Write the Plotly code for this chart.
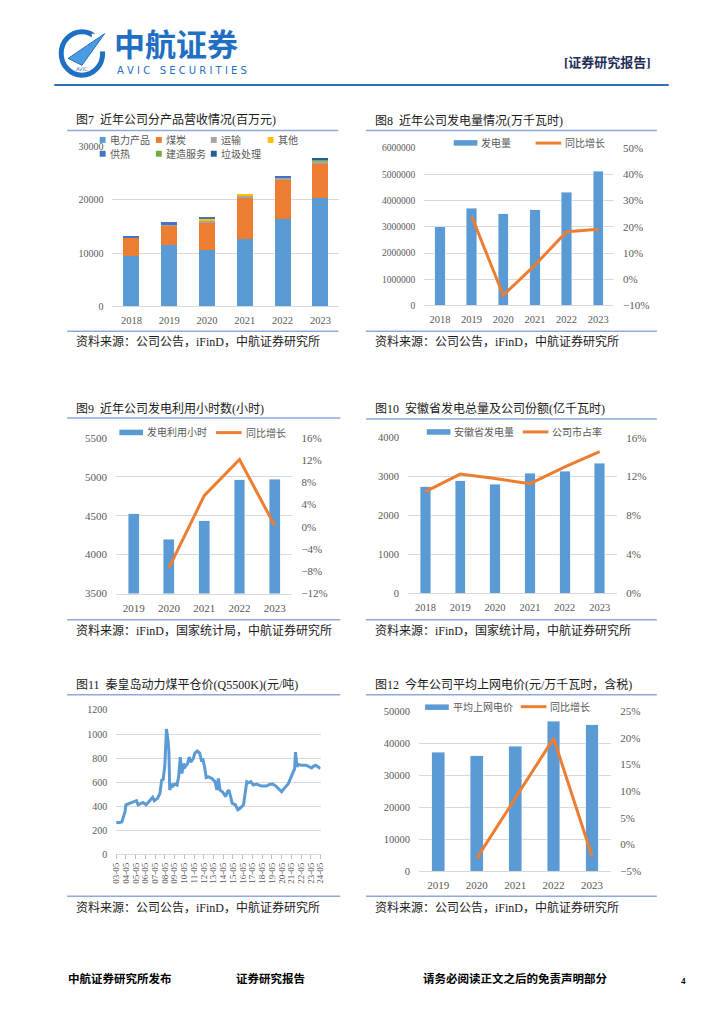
import plotly.graph_objects as go

W, H = 724, 1024

# ---------------- data ----------------
years7 = ["2018", "2019", "2020", "2021", "2022", "2023"]
rev_power = [9400, 11450, 10580, 12620, 16500, 20400]
rev_coal = [3530, 3900, 5260, 7980, 7300, 6430]
rev_transport = [100, 150, 200, 300, 430, 620]
rev_other = [0, 0, 450, 250, 0, 0]
rev_heat = [150, 300, 300, 0, 190, 0]
rev_construct = [0, 0, 0, 0, 0, 200]
rev_waste = [0, 0, 0, 0, 0, 250]

years8 = ["2018", "2019", "2020", "2021", "2022", "2023"]
gen = [2994000, 3708000, 3495000, 3658000, 4309000, 5123000]
gen_yoy = [None, 0.240, -0.061, 0.054, 0.181, 0.191]

years9 = ["2019", "2020", "2021", "2022", "2023"]
hours = [4525, 4195, 4432, 4962, 4966]
hours_yoy = [None, -0.074, 0.056, 0.121, 0.002]

years10 = ["2018", "2019", "2020", "2021", "2022", "2023"]
ah_gen = [2737, 2890, 2805, 3085, 3136, 3339]
share = [0.1045, 0.1226, 0.118, 0.1127, 0.130, 0.1457]

coal_dates = [
    "2003-05", "2003-08", "2003-12", "2004-02", "2004-04", "2004-05", "2004-10", "2005-02",
    "2005-06", "2005-08", "2005-10", "2006-02", "2006-06", "2006-10", "2007-02", "2007-04",
    "2007-08", "2007-11", "2008-01", "2008-03", "2008-05", "2008-07", "2008-09", "2008-10",
    "2008-11", "2009-01", "2009-03", "2009-05", "2009-08", "2009-10", "2009-12", "2010-02",
    "2010-04", "2010-06", "2010-09", "2010-11", "2011-01", "2011-04", "2011-06", "2011-09",
    "2011-12", "2012-02", "2012-04", "2012-06", "2012-08", "2012-11", "2013-03", "2013-07",
    "2013-09", "2013-11", "2014-01", "2014-04", "2014-08", "2014-10", "2014-12", "2015-02",
    "2015-04", "2015-08", "2015-11", "2016-02", "2016-06", "2016-08", "2016-10", "2016-12",
    "2017-03", "2017-06", "2017-10", "2018-04", "2018-10", "2019-02", "2019-06", "2019-10",
    "2020-02", "2020-05", "2020-08", "2021-01", "2021-03", "2021-05", "2021-07", "2021-09",
    "2021-10", "2021-11", "2021-12", "2022-01", "2022-05", "2022-11", "2023-03", "2023-06",
    "2023-08", "2023-11", "2024-02", "2024-05",
]
coal_price = [
    266, 262, 268, 315, 356, 411, 425, 440,
    446, 411, 419, 430, 411, 438, 474, 446,
    466, 507, 616, 622, 740, 1041, 945, 849,
    534, 584, 567, 584, 575, 644, 808, 671,
    753, 726, 753, 808, 767, 795, 841, 858,
    841, 781, 786, 726, 638, 644, 630, 603,
    534, 630, 534, 520, 479, 520, 534, 479,
    425, 411, 370, 384, 411, 507, 603, 594,
    603, 575, 584, 567, 567, 581, 584, 567,
    540, 520, 548, 584, 616, 644, 685, 712,
    849, 781, 726, 748, 740, 740, 731, 718,
    731, 740, 726, 712,
]

years12 = ["2019", "2020", "2021", "2022", "2023"]
price = [37110, 36080, 39070, 46800, 45670]
price_yoy = [None, -0.026, 0.087, 0.199, -0.022]

# ---------------- styles ----------------
BLUE = "#5b9bd5"
ORANGE = "#ed7d31"
GRID = "#d9d9d9"
TICK = "#595959"
RULE = "#8eaadb"
NUMFONT = "Liberation Serif"
CJK = "Liberation Serif, Noto Sans CJK SC"


def px(x):
    return x / W


def py(y):
    return 1 - y / H


def ydom(top, bottom):
    return [py(bottom), py(top)]


def xdom(left, right):
    return [px(left), px(right)]


fig = go.Figure()

# ---- Chart 7: stacked bars ----
stack = [
    ("电力产品", rev_power, "#5b9bd5"),
    ("煤炭", rev_coal, "#ed7d31"),
    ("运输", rev_transport, "#a5a5a5"),
    ("其他", rev_other, "#ffc000"),
    ("供热", rev_heat, "#4472c4"),
    ("建造服务", rev_construct, "#70ad47"),
    ("垃圾处理", rev_waste, "#255e91"),
]
for name, vals, col in stack:
    fig.add_trace(go.Bar(x=years7, y=vals, name=name, marker_color=col, width=0.42,
                         marker_line_width=0, xaxis="x", yaxis="y", showlegend=False))

# ---- Chart 8 ----
fig.add_trace(go.Bar(x=years8, y=gen, marker_color=BLUE, width=0.33, xaxis="x2", yaxis="y2",
                     showlegend=False, name="发电量"))
fig.add_trace(go.Scatter(x=years8, y=gen_yoy, mode="lines", line=dict(color=ORANGE, width=3),
                         xaxis="x2", yaxis="y3", showlegend=False, name="同比增长"))

# ---- Chart 9 ----
fig.add_trace(go.Bar(x=years9, y=hours, marker_color=BLUE, width=0.31, xaxis="x3", yaxis="y4",
                     showlegend=False, name="发电利用小时"))
fig.add_trace(go.Scatter(x=years9, y=hours_yoy, mode="lines", line=dict(color=ORANGE, width=3),
                         xaxis="x3", yaxis="y5", showlegend=False, name="同比增长"))

# ---- Chart 10 ----
fig.add_trace(go.Bar(x=years10, y=ah_gen, marker_color=BLUE, width=0.30, xaxis="x4", yaxis="y6",
                     showlegend=False, name="安徽省发电量"))
fig.add_trace(go.Scatter(x=years10, y=share, mode="lines", line=dict(color=ORANGE, width=3),
                         xaxis="x4", yaxis="y7", showlegend=False, name="公司市占率"))

# ---- Chart 11 ----
fig.add_trace(go.Scatter(x=[d + "-01" for d in coal_dates], y=coal_price, mode="lines",
                         line=dict(color=BLUE, width=3), xaxis="x5", yaxis="y8",
                         showlegend=False, name="秦皇岛动力煤平仓价"))

# ---- Chart 12 ----
fig.add_trace(go.Bar(x=years12, y=price, marker_color=BLUE, width=0.33, xaxis="x6", yaxis="y9",
                     showlegend=False, name="平均上网电价"))
fig.add_trace(go.Scatter(x=years12, y=price_yoy, mode="lines", line=dict(color=ORANGE, width=3),
                         xaxis="x6", yaxis="y10", showlegend=False, name="同比增长"))


def xcat(dom, anchor, n, size=10.5):
    return dict(domain=dom, anchor=anchor, type="category", range=[-0.5, n - 0.5],
                showgrid=False, showline=True, linecolor=GRID, linewidth=1, ticks="",
                tickfont=dict(family=NUMFONT, size=size, color=TICK), ticklabelstandoff=4,
                fixedrange=True)


def yleft(dom, anchor, rng, dtick, size=10.5, fmt="d"):
    return dict(domain=dom, anchor=anchor, range=rng, dtick=dtick, tick0=rng[0],
                showgrid=True, gridcolor=GRID, gridwidth=1, zeroline=False, showline=False,
                ticks="", tickformat=fmt,
                tickfont=dict(family=NUMFONT, size=size, color=TICK), ticklabelstandoff=8,
                fixedrange=True)


def yright(overlay, anchor, rng, dtick, size=10.5):
    return dict(overlaying=overlay, anchor=anchor, side="right", range=rng, dtick=dtick,
                tick0=rng[0], showgrid=False, zeroline=False, showline=False, ticks="",
                tickformat=".0%", tickfont=dict(family=NUMFONT, size=size, color=TICK),
                ticklabelstandoff=8, fixedrange=True)


layout = dict(
    width=W, height=H, margin=dict(l=0, r=0, t=0, b=0),
    paper_bgcolor="white", plot_bgcolor="white", barmode="stack",
    showlegend=False,
    font=dict(family=CJK, color="#000000"),
    # chart 7
    xaxis=xcat(xdom(109, 339), "y", 6),
    yaxis=yleft(ydom(142.3, 304), "x", [0, 30000], 10000, size=10),
    # chart 8
    xaxis2=xcat(xdom(425, 617.6), "y2", 6),
    yaxis2=yleft(ydom(143.8, 303), "x2", [0, 6000000], 1000000, size=9.5),
    yaxis3=yright("y2", "x2", [-0.10, 0.50], 0.10, size=11),
    # chart 9
    xaxis3=xcat(xdom(112.6, 291.4), "y4", 5, size=11),
    yaxis4=yleft(ydom(437, 594.5), "x3", [3500, 5500], 500, size=11),
    yaxis5=yright("y4", "x3", [-0.12, 0.16], 0.04, size=11),
    # chart 10
    xaxis4=xcat(xdom(408.6, 620.7), "y6", 6),
    yaxis6=yleft(ydom(436.9, 594), "x4", [0, 4000], 1000),
    yaxis7=yright("y6", "x4", [0, 0.16], 0.04, size=11),
    # chart 11
    xaxis5=dict(domain=xdom(112.7, 320), anchor="y8", type="date",
                range=["2003-05-01", "2024-05-01"], tick0="2003-05-01", dtick="M12",
                tickformat="%y-%m", tickangle=-90, showgrid=False, showline=True,
                linecolor=GRID, ticks="outside", ticklen=4, tickcolor="#bfbfbf",
                tickfont=dict(family=NUMFONT, size=9, color=TICK), fixedrange=True),
    yaxis8=yleft(ydom(712.3, 858.3), "x5", [0, 1200], 200, size=10),
    # chart 12
    xaxis6=xcat(xdom(419.8, 614.8), "y9", 5, size=11),
    yaxis9=yleft(ydom(713.5, 875.5), "x6", [0, 50000], 10000),
    yaxis10=yright("y9", "x6", [-0.05, 0.25], 0.05, size=11),
)
fig.update_layout(**layout)

shapes = []
annotations = []


def text(x, y, s, size=12, color="#000000", anchor="left", family=CJK, bold=False):
    annotations.append(dict(xref="paper", yref="paper", x=px(x), y=py(y), text=("<b>%s</b>" % s) if bold else s,
                            showarrow=False, xanchor=anchor, yanchor="middle",
                            font=dict(size=size, color=color, family=family)))


def hline(x0, x1, y, color=RULE, width=1.5):
    shapes.append(dict(type="line", xref="paper", yref="paper", x0=px(x0), x1=px(x1), y0=py(y), y1=py(y),
                       line=dict(color=color, width=width), layer="above"))


def rect(x0, y0, x1, y1, color):
    shapes.append(dict(type="rect", xref="paper", yref="paper", x0=px(x0), x1=px(x1), y0=py(y0), y1=py(y1),
                       fillcolor=color, line=dict(width=0), layer="above"))


# ---- header ----
shapes.append(dict(type="circle", xref="paper", yref="paper", x0=px(57), x1=px(99), y0=py(70), y1=py(26),
                   line=dict(color="#1f6fc5", width=5), fillcolor="white", layer="above"))
rect(88, 28, 102, 46, "white")
shapes.append(dict(type="path", xref="paper", yref="paper",
                   path="M %f %f L %f %f L %f %f Z" % (px(64), py(53), px(101), py(28), px(78), py(60)),
                   fillcolor="#4a9be0", line=dict(color="#1f6fc5", width=1), layer="above"))
text(78, 64, "AVIC", size=5, color="#1f6fc5", anchor="center", family="DejaVu Sans")
text(108, 37, "<b>中航证券</b>", size=31, color="#1f6fc5", family="Noto Sans CJK SC")
text(112, 65, "A V I C   S E C U R I T I E S", size=10, color="#1f6fc5", family="DejaVu Sans")
text(657, 57, "[证券研究报告]", size=13, color="#1f2d5a", anchor="right", bold=True)
hline(50, 673, 80, color="#2e6db4", width=2)

# ---- footer ----
text(62, 984, "中航证券研究所发布", size=11.5, bold=True)
text(232, 984, "证券研究报告", size=11.5, bold=True)
text(422, 984, "请务必阅读正文之后的免责声明部分", size=11.5, bold=True)
text(683, 987, "4", size=9, bold=True)

# ---- chart frames: titles, rules, sources ----
SRC1 = "资料来源：公司公告，iFinD，中航证券研究所"
SRC2 = "资料来源：iFinD，国家统计局，中航证券研究所"
frames = [
    (63, 338, 115.5, 126, 329, 339.5, "图7  近年公司分产品营收情况(百万元)", SRC1),
    (366, 661, 115.5, 126, 329, 339.5, "图8  近年公司发电量情况(万千瓦时)", SRC1),
    (63, 340, 407, 417, 621, 632, "图9  近年公司发电利用小时数(小时)", SRC2),
    (366, 661, 407, 418, 621, 632, "图10  安徽省发电总量及公司份额(亿千瓦时)", SRC2),
    (63, 340, 687, 697, 900.7, 912, "图11  秦皇岛动力煤平仓价(Q5500K)(元/吨)", SRC1),
    (366, 661, 687, 697, 900.7, 912, "图12  今年公司平均上网电价(元/万千瓦时，含税)", SRC1),
]
for x0, x1, ty, r1, r2, sy, title, src in frames:
    text(x0 + 7, ty, title, size=12, color="#1a1a1a")
    hline(x0, x1, r1)
    hline(x0, x1, r2)
    text(x0 + 7, sy, src, size=12, color="#1a1a1a")

# ---- legends ----
leg7 = [(99, 135.5, 0), (156, 135.5, 1), (211.7, 135.5, 2), (269.3, 135.5, 3),
        (99, 149.5, 4), (156, 149.5, 5), (211.7, 149.5, 6)]
for lx, ly, i in leg7:
    rect(lx - 3, ly - 3, lx + 3, ly + 3, stack[i][2])
    text(lx + 5, ly, stack[i][0], size=10, color=TICK)


def combo_legend(bg, bx, by, btxt, lx, ly, ltxt):
    rect(bg[0], bg[1], bg[2], bg[3], "white")
    rect(bx, by - 2.8, bx + 24, by + 2.8, BLUE)
    text(bx + 26, by, btxt, size=10, color=TICK)
    shapes.append(dict(type="line", xref="paper", yref="paper", x0=px(lx), x1=px(lx + 26),
                       y0=py(ly), y1=py(ly), line=dict(color=ORANGE, width=3), layer="above"))
    text(lx + 28, ly, ltxt, size=10, color=TICK)


combo_legend((452, 131, 608, 147), 455, 138.5, "发电量", 538, 138.7, "同比增长")
combo_legend((113, 424, 283, 440), 116, 431.5, "发电利用小时", 214, 431.7, "同比增长")
combo_legend((424, 424, 606, 440), 427.7, 431, "安徽省发电量", 525, 431, "公司市占率")
combo_legend((423, 702, 594, 717), 426, 709.5, "平均上网电价", 523, 709, "同比增长")

fig.update_layout(shapes=shapes, annotations=annotations)
fig.write_html(
    "out.html",
    config={"displayModeBar": False},
    post_script="document.documentElement.style.margin='0';document.body.style.margin='0';"
                "document.body.style.padding='0';document.body.style.overflow='hidden';",
)
